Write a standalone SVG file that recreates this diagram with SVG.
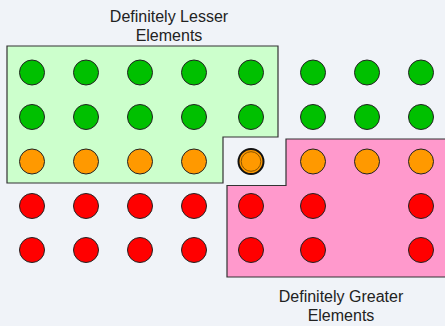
<svg xmlns="http://www.w3.org/2000/svg" width="445" height="326" viewBox="0 0 445 326">
<style>
.lbl{font-family:"Liberation Sans",Arial,sans-serif;font-size:16px;fill:#222;text-anchor:middle}
.reg{stroke:#333;stroke-width:1.2}
.g{fill:#00c000;stroke:#222;stroke-width:1}
.o{fill:#ff9900;stroke:#222;stroke-width:1}
.r{fill:#ff0000;stroke:#222;stroke-width:1}
</style>
<rect width="445" height="326" fill="#f0f3f8"/>
<g id="lesser-region">
<polygon class="reg" fill="#ccffcc" points="7,46 278,46 278,137 223,137 223,183 7,183"/>
<text class="lbl" x="169" y="21.5">Definitely Lesser</text>
<text class="lbl" x="169" y="40.5">Elements</text>
</g>
<g id="greater-region">
<polygon class="reg" fill="#ff99cc" points="286,139 446,139 446,277 227,277 227,185.5 286,185.5"/>
<text class="lbl" x="341" y="301.5">Definitely Greater</text>
<text class="lbl" x="341" y="320.5">Elements</text>
</g>
<g id="row1">
<circle class="g" cx="32" cy="72.5" r="12.5"/><circle class="g" cx="86" cy="72.5" r="12.5"/><circle class="g" cx="140" cy="72.5" r="12.5"/><circle class="g" cx="194" cy="72.5" r="12.5"/><circle class="g" cx="251" cy="72.5" r="12.5"/><circle class="g" cx="313" cy="72.5" r="12.5"/><circle class="g" cx="367" cy="72.5" r="12.5"/><circle class="g" cx="421" cy="72.5" r="12.5"/>
</g>
<g id="row2">
<circle class="g" cx="32" cy="117" r="12.5"/><circle class="g" cx="86" cy="117" r="12.5"/><circle class="g" cx="140" cy="117" r="12.5"/><circle class="g" cx="194" cy="117" r="12.5"/><circle class="g" cx="251" cy="117" r="12.5"/><circle class="g" cx="313" cy="117" r="12.5"/><circle class="g" cx="367" cy="117" r="12.5"/><circle class="g" cx="421" cy="117" r="12.5"/>
</g>
<g id="row3">
<circle class="o" cx="32" cy="161.5" r="12.5"/><circle class="o" cx="86" cy="161.5" r="12.5"/><circle class="o" cx="140" cy="161.5" r="12.5"/><circle class="o" cx="194" cy="161.5" r="12.5"/><circle class="o" cx="313" cy="161.5" r="12.5"/><circle class="o" cx="367" cy="161.5" r="12.5"/><circle class="o" cx="421" cy="161.5" r="12.5"/>
</g>
<g id="pivot">
<circle cx="251" cy="161.5" r="12.5" fill="#ff9900" stroke="#111" stroke-width="2"/>
<circle cx="251" cy="161.5" r="9.8" fill="none" stroke="#8a5500" stroke-width="1"/>
</g>
<g id="row4">
<circle class="r" cx="32" cy="206" r="12.5"/><circle class="r" cx="86" cy="206" r="12.5"/><circle class="r" cx="140" cy="206" r="12.5"/><circle class="r" cx="194" cy="206" r="12.5"/><circle class="r" cx="251" cy="206" r="12.5"/><circle class="r" cx="313" cy="206" r="12.5"/><circle class="r" cx="421" cy="206" r="12.5"/>
</g>
<g id="row5">
<circle class="r" cx="32" cy="250" r="12.5"/><circle class="r" cx="86" cy="250" r="12.5"/><circle class="r" cx="140" cy="250" r="12.5"/><circle class="r" cx="194" cy="250" r="12.5"/><circle class="r" cx="251" cy="250" r="12.5"/><circle class="r" cx="313" cy="250" r="12.5"/><circle class="r" cx="421" cy="250" r="12.5"/>
</g>
</svg>
